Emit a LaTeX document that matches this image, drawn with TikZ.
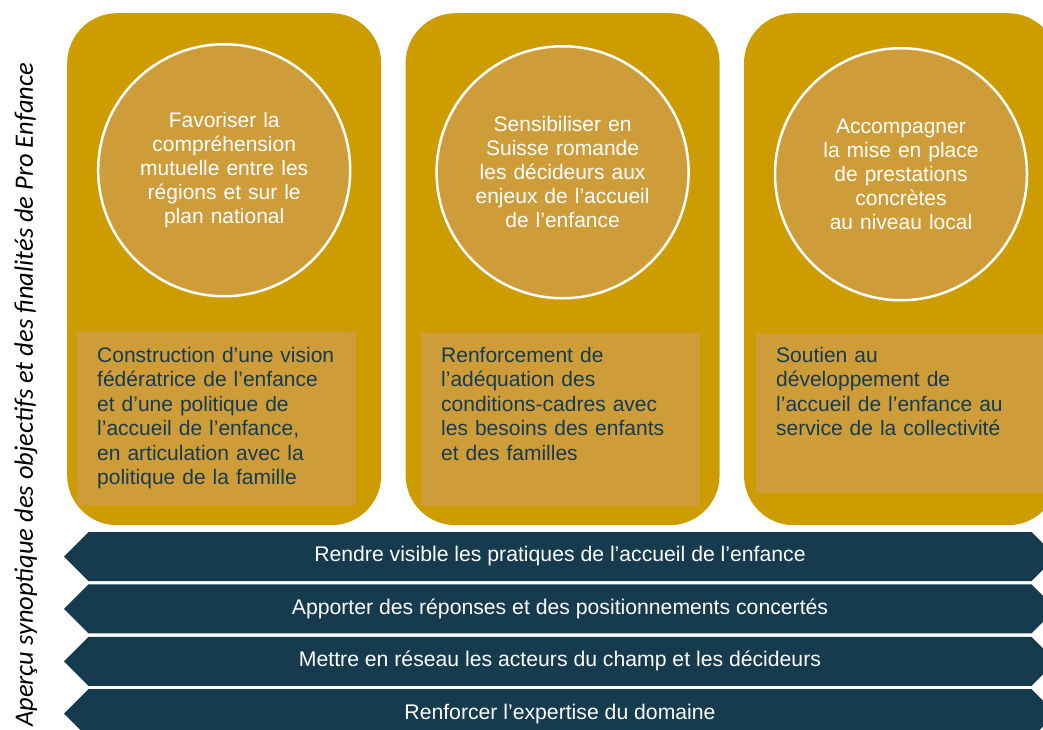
\documentclass[tikz,border=0pt]{standalone}
\usepackage{fontspec}
\setmainfont{Liberation Sans}
\newfontfamily\titlefont{Carlito}
\usepackage{tikz}
\usetikzlibrary{positioning,shapes.symbols}
\definecolor{gold}{RGB}{205,156,0}
\definecolor{ochre}{RGB}{206,157,58}
\definecolor{navy}{RGB}{22,59,78}

\begin{document}
\begin{tikzpicture}[x=1pt, y=-1pt, node distance=24pt]
    % Styles
    \tikzstyle{panel} = [rectangle, fill=gold, rounded corners=50pt, minimum width=314pt, minimum height=512pt, inner sep=0pt]
    \tikzstyle{goal} = [circle, fill=ochre, draw=white, line width=2.5pt, minimum size=252pt, inner sep=0pt, text width=195pt, align=center, text=white, font=\fontsize{21}{24}\selectfont]
    \tikzstyle{aimbox} = [rectangle, fill=ochre, minimum width=279pt, minimum height=173pt, inner sep=0pt]
    \tikzstyle{aimtext} = [text width=255pt, align=left, text=navy, inner sep=0pt, font=\fontsize{21}{24.5}\selectfont]
    \tikzstyle{banner} = [signal, signal to=west and east, signal pointer angle=90, fill=navy, text=white, minimum width=992pt, minimum height=49pt, inner sep=0pt, font=\fontsize{21.2}{24}\selectfont]

    \useasboundingbox (0,0) rectangle (1043,729);
    \clip (0,0) rectangle (1043,729);

    % Panels
    \node [panel, anchor=north west] (panel1) at (67,13) {};
    \node [panel, right=of panel1] (panel2) {};
    \node [panel, right=of panel2] (panel3) {};

    % Goals
    \node [goal, below=30pt of panel1.north] (goal1) {Favoriser la\\compréhension\\mutuelle entre les\\régions et sur le\\plan national};
    \node [goal, below=32pt of panel2.north] (goal2) {Sensibiliser en\\Suisse romande\\les décideurs aux\\enjeux de l’accueil\\de l’enfance};
    \node [goal, below=34pt of panel3.north] (goal3) {Accompagner\\la mise en place\\de prestations\\concrètes\\au niveau local};

    % Aims
    \node [aimbox, anchor=north west] (aim1) at (77,332) {};
    \node [aimbox, anchor=north west] (aim2) at (421,333) {};
    \node [aimbox, anchor=north west, minimum width=295pt, minimum height=159pt] (aim3) at (756,334) {};
    \node [aimtext, below right=15pt and 20pt of aim1.north west] (text1) {Construction d’une vision\\fédératrice de l’enfance\\et d’une politique de\\l’accueil de l’enfance,\\en articulation avec la\\politique de la famille};
    \node [aimtext, below right=14pt and 20pt of aim2.north west] (text2) {Renforcement de\\l’adéquation des\\conditions-cadres avec\\les besoins des enfants\\et des familles};
    \node [aimtext, below right=13pt and 20pt of aim3.north west] (text3) {Soutien au\\développement de\\l’accueil de l’enfance au\\service de la collectivité};

    % Banners
    \node [banner] (band1) at (560,556.5) {Rendre visible les pratiques de l’accueil de l’enfance};
    \node [banner, below=3pt of band1] (band2) {Apporter des réponses et des positionnements concertés};
    \node [banner, below=3pt of band2] (band3) {Mettre en réseau les acteurs du champ et les décideurs};
    \node [banner, below=3pt of band3] (band4) {Renforcer l’expertise du domaine};

    % Title
    \node [rotate=90, font=\titlefont\itshape\fontsize{26.5}{30}\selectfont] (title) at (26,395) {Aperçu synoptique des objectifs et des finalités de Pro Enfance};
\end{tikzpicture}
\end{document}
